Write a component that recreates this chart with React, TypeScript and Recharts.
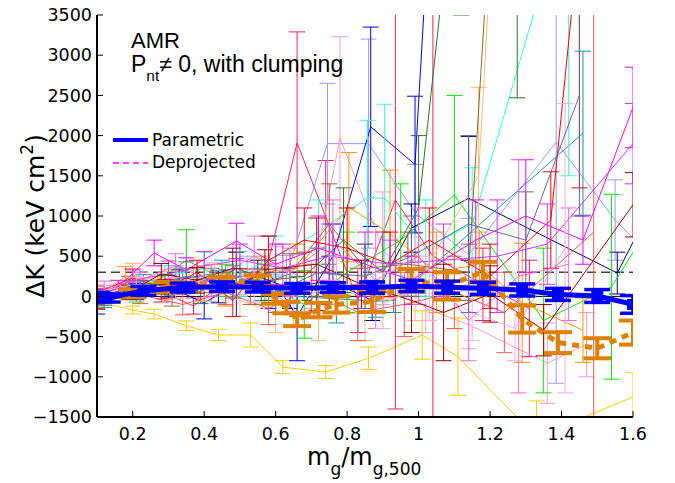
import { ComposedChart, Line, XAxis, YAxis, ErrorBar, ReferenceLine } from "recharts";

// [x, dK, error]
type Pt = [number, number, number];

const xTicks = [0.2, 0.4, 0.6, 0.8, 1, 1.2, 1.4, 1.6];
const yTicks = [-1500, -1000, -500, 0, 500, 1000, 1500, 2000, 2500, 3000, 3500];
const xDomain: [number, number] = [0.1, 1.6];
const yDomain: [number, number] = [-1500, 3500];
const zeroLevel = 0;
const dashedLevel = 300;

const parametric: Pt[] = [
  [0.1, 0, 50], [0.13, -20, 50], [0.23, 70, 55], [0.34, 110, 55], [0.45, 120, 60],
  [0.55, 115, 60], [0.66, 100, 60], [0.76, 110, 60], [0.87, 110, 70], [0.98, 130, 70],
  [1.08, 115, 75], [1.18, 100, 75], [1.29, 80, 75], [1.39, 25, 75], [1.5, 5, 80], [1.6, -100, 110],
];

const deprojected: Pt[] = [
  [0.1, -20, 40], [0.2, 40, 50], [0.3, 120, 60], [0.45, 180, 60], [0.55, 190, 70],
  [0.6, -30, 60], [0.63, -140, 70], [0.66, -290, 80], [0.72, -170, 90], [0.77, -100, 100],
  [0.87, -65, 130], [0.98, 200, 140], [1.08, 130, 170], [1.18, 305, 125], [1.29, -280, 170],
  [1.39, -575, 130], [1.5, -645, 125], [1.6, -450, 150],
];

const clYellow: Pt[] = [
  [0.1, -60, 60], [0.2, -170, 50], [0.26, -220, 60], [0.35, -365, 60], [0.44, -480, 70],
  [0.53, -480, 150], [0.62, -880, 80], [0.74, -940, 80], [0.86, -770, 140], [1.01, -480, 300],
  [1.11, -750, 480], [1.33, -1750, 450], [1.6, -1250, 300],
];
const clCrimson: Pt[] = [
  [0.11, 30, 70], [0.19, 140, 110], [0.28, 60, 130], [0.37, -120, 100], [0.46, 190, 140],
  [0.56, 80, 180], [0.66, 1910, 1380], [0.74, 990, 700], [0.83, -50, 400], [0.935, 1200, 2600],
  [1.04, 500, 5000], [1.18, 150, 450], [1.31, -150, 600],
];
const clLightBlue: Pt[] = [
  [0.12, 50, 90], [0.22, 180, 120], [0.32, 230, 150], [0.42, 100, 160], [0.52, 300, 200],
  [0.63, 260, 250], [0.745, 1900, 750], [0.86, 1900, 1300], [0.99, 1040, 600], [1.14, 520, 450],
  [1.385, 1920, 3000], [1.55, 950, 500], [1.65, 500, 400],
];
const clPink: Pt[] = [
  [0.1, -40, 80], [0.2, 120, 100], [0.3, 200, 140], [0.4, 260, 120], [0.5, 180, 160],
  [0.6, 420, 200], [0.7, 150, 300], [0.78, 1970, 1260], [0.9, 600, 700], [1.02, -150, 300],
  [1.14, -350, 300], [1.36, -830, 500], [1.47, -600, 400],
];
const clBlue: Pt[] = [
  [0.1, -100, 120], [0.21, 60, 100], [0.3, 120, 140], [0.4, -80, 200], [0.49, 150, 400],
  [0.58, 300, 450], [0.66, -250, 550], [0.76, 500, 400], [0.866, 2110, 1240], [0.99, 1640, 850],
  [1.06, 7000, 2000],
];
const clNavy: Pt[] = [
  [0.11, 0, 80], [0.22, 100, 100], [0.33, 180, 150], [0.44, 120, 200], [0.55, 250, 200],
  [0.64, 100, 250], [0.75, 200, 300], [0.87, -50, 250], [0.98, 850, 300], [1.14, 1220, 770],
  [1.556, 290, 260], [1.66, 1200, 300],
];
const clTeal: Pt[] = [
  [0.12, -60, 80], [0.23, 150, 120], [0.34, 220, 130], [0.45, 300, 150], [0.56, 150, 200],
  [0.66, 0, 250], [0.77, -30, 300], [0.88, -60, 200], [0.93, -50, 150], [1.46, 2030, 1020],
];
const clAqua: Pt[] = [
  [0.1, -80, 70], [0.19, 60, 90], [0.29, 250, 130], [0.4, 350, 200], [0.5, 280, 280],
  [0.6, 500, 250], [0.72, 800, 400], [0.857, 1230, 960], [0.905, 1220, 1170], [1.02, 600, 600],
  [1.15, 900, 700], [1.42, 5000, 3500],
];
const clGreen: Pt[] = [
  [0.11, -50, 60], [0.21, 20, 90], [0.35, 450, 380], [0.46, 200, 200], [0.57, 150, 250],
  [0.68, -100, 420], [0.8, 300, 500], [0.95, 700, 700], [1.1, 1260, 1240], [1.35, -300, 900],
  [1.54, 120, 1150], [1.65, 900, 600],
];
const clDarkGreen: Pt[] = [
  [0.1, -30, 70], [0.2, 80, 100], [0.29, 150, 120], [0.39, 60, 150], [0.49, 350, 200],
  [0.58, 200, 250], [0.68, 250, 300], [0.79, 700, 650], [0.9, 300, 500], [1.0, 1100, 900],
  [1.12, 6000, 2500], [1.276, 3600, 1130],
];
const clOrange: Pt[] = [
  [0.1, 0, 70], [0.18, 250, 120], [0.27, 150, 100], [0.37, 200, 150], [0.46, 80, 200],
  [0.56, 300, 200], [0.66, 350, 300], [0.805, 1110, 680], [0.92, 780, 790], [1.05, 300, 500],
  [1.17, 400, 400], [1.29, -80, 740], [1.46, -420, 400],
];
const clLightOrange: Pt[] = [
  [0.1, -30, 60], [0.2, 260, 150], [0.3, 180, 130], [0.4, 100, 160], [0.5, -50, 200],
  [0.6, -200, 250], [0.72, -250, 300], [0.85, -200, 350], [0.99, 100, 400], [1.168, 1500, 1100],
  [1.25, 8000, 3000],
];
const clBrown: Pt[] = [
  [0.1, 20, 60], [0.21, 100, 100], [0.31, 0, 120], [0.42, 200, 150], [0.53, 100, 200],
  [0.64, 280, 250], [0.75, 900, 500], [0.85, 350, 300], [0.97, 400, 400], [1.14, 300, 350],
  [1.26, 9000, 3000],
];
const clRed: Pt[] = [
  [0.1, 50, 80], [0.2, 230, 110], [0.29, 90, 120], [0.38, 300, 150], [0.48, -50, 200],
  [0.58, 450, 300], [0.68, 700, 400], [0.8, 600, 500], [0.92, 400, 400], [1.03, 700, 400],
  [1.2, 250, 400], [1.37, 950, 600], [1.45, 4500, 3150],
];
const clLightRed: Pt[] = [
  [0.1, -70, 80], [0.22, 20, 110], [0.34, -100, 130], [0.46, 50, 150], [0.58, -150, 200],
  [0.7, 100, 300], [0.83, -200, 350], [0.96, -100, 400], [1.1, 50, 450], [1.24, -200, 500],
  [1.49, 800, 6000],
];
const clMagenta: Pt[] = [
  [0.1, -20, 60], [0.16, 120, 80], [0.26, 540, 160], [0.35, 330, 150], [0.49, 690, 220],
  [0.6, 400, 250], [0.72, 600, 400], [0.85, 400, 400], [0.98, 200, 300], [1.16, 700, 500],
  [1.3, 1000, 700], [1.46, 700, 300], [1.6, 2350, 500],
];
const clViolet: Pt[] = [
  [0.1, 30, 70], [0.2, 200, 130], [0.3, 280, 160], [0.4, 380, 180], [0.5, 450, 200],
  [0.62, 350, 300], [0.75, 500, 400], [0.92, 400, 300], [1.07, 450, 450], [1.22, 500, 700],
  [1.36, 650, 500], [1.6, 1900, 500],
];
const clHotPink: Pt[] = [
  [0.12, 100, 90], [0.22, 200, 100], [0.32, 380, 150], [0.42, 200, 200], [0.54, 500, 250],
  [0.64, 300, 300], [0.76, 700, 500], [0.88, 200, 600], [1.0, 500, 600], [1.14, -300, 500],
  [1.28, 250, 1450], [1.42, 400, 700],
];
const clDarkRed: Pt[] = [
  [0.1, -100, 60], [0.19, 50, 90], [0.28, 280, 130], [0.38, 200, 160], [0.48, 350, 250],
  [0.57, 330, 250], [0.715, 400, 575], [0.84, 150, 300], [0.98, -50, 400], [1.07, -200, 600],
  [1.2, 30, 350], [1.35, -420, 320], [1.6, 1140, 400],
];
const clPalePink: Pt[] = [
  [0.1, 60, 80], [0.21, 150, 90], [0.32, 100, 130], [0.43, 250, 170], [0.54, 130, 200],
  [0.65, -100, 250], [0.77, 200, 300], [0.9, -50, 350], [1.03, 100, 400], [1.15, -200, 350],
  [1.27, -400, 400], [1.41, 600, 1800],
];
const clSlate: Pt[] = [
  [0.12, -30, 80], [0.23, 100, 100], [0.35, 250, 180], [0.48, 180, 200], [0.6, 50, 250],
  [0.72, 300, 300], [0.85, 250, 400], [0.98, 500, 500], [1.14, 900, 1100], [1.3, 700, 600],
  [1.45, 2500, 1500],
];

const clusters: { color: string; pts: Pt[] }[] = [
  { color: "#ffcc00", pts: clYellow },
  { color: "#ff1f5a", pts: clCrimson },
  { color: "#9999ff", pts: clLightBlue },
  { color: "#ff99cc", pts: clPink },
  { color: "#0000ff", pts: clBlue },
  { color: "#000080", pts: clNavy },
  { color: "#119a9a", pts: clTeal },
  { color: "#33ffcc", pts: clAqua },
  { color: "#00ee00", pts: clGreen },
  { color: "#2f6f2f", pts: clDarkGreen },
  { color: "#ff9900", pts: clOrange },
  { color: "#ffbb77", pts: clLightOrange },
  { color: "#996633", pts: clBrown },
  { color: "#ff0000", pts: clRed },
  { color: "#ff5555", pts: clLightRed },
  { color: "#ff00ff", pts: clMagenta },
  { color: "#cc33ff", pts: clViolet },
  { color: "#ff66cc", pts: clHotPink },
  { color: "#990000", pts: clDarkRed },
  { color: "#ffaadd", pts: clPalePink },
  { color: "#6666aa", pts: clSlate },
];

const toRows = (pts: Pt[]) => pts.map(([x, y, e]) => ({ x, y, e }));

const tickFont = { fill: "#000", fontSize: 17.5, fontFamily: "DejaVu Sans" };
const fmtY = (v: number) => (v < 0 ? "\u2212" + Math.abs(v) : String(v));
const frame = { stroke: "#000", strokeWidth: 2 };

const SquareDot = (p: any) => (
  <rect key={p.index} x={p.cx - 6} y={p.cy - 5.5} width={12} height={11} fill="#0000ff" />
);

// plot box: left 97, top 15, right 633, bottom 417
const W = 675;
const H = 483;

export default function App() {
  return (
    <div style={{ position: "absolute", left: 0, top: 0, width: W, height: H, background: "#fff" }}>
      {/* data layer, clipped to the plot box */}
      <div style={{ position: "absolute", left: 0, top: 0, clipPath: "inset(15px 42px 66px 97px)" }}>
        <ComposedChart width={W} height={H} margin={{ top: 15, right: 42, bottom: 66, left: 97 }}>
          <XAxis dataKey="x" type="number" domain={xDomain} allowDataOverflow hide />
          <YAxis type="number" domain={yDomain} allowDataOverflow hide />
          <ReferenceLine y={zeroLevel} stroke="#000" strokeWidth={1} />
          <ReferenceLine y={dashedLevel} stroke="#444" strokeWidth={1.5} strokeDasharray="9 5" />
          {clusters.map((c, i) => (
            <Line
              key={i}
              data={toRows(c.pts)}
              dataKey="y"
              type="linear"
              stroke={c.color}
              strokeWidth={1}
              dot={false}
              isAnimationActive={false}
            >
              <ErrorBar dataKey="e" direction="y" width={8} stroke={c.color} strokeWidth={1} isAnimationActive={false} />
            </Line>
          ))}
          <Line
            data={toRows(deprojected)}
            dataKey="y"
            type="linear"
            stroke="#e08000"
            strokeWidth={5}
            strokeDasharray="7 6"
            dot={false}
            isAnimationActive={false}
          >
            <ErrorBar dataKey="e" direction="y" width={14} stroke="#e08000" strokeWidth={4} isAnimationActive={false} />
          </Line>
          <Line
            data={toRows(parametric)}
            dataKey="y"
            type="linear"
            stroke="#0000ff"
            strokeWidth={5}
            dot={SquareDot}
            isAnimationActive={false}
          >
            <ErrorBar dataKey="e" direction="y" width={13} stroke="#0000ff" strokeWidth={3.5} isAnimationActive={false} />
          </Line>
        </ComposedChart>
      </div>
      {/* axes layer */}
      <div style={{ position: "absolute", left: 0, top: 0 }}>
        <ComposedChart width={W} height={H} margin={{ top: 15, right: 42, bottom: 0, left: 0 }}>
          <XAxis
            dataKey="x"
            type="number"
            domain={xDomain}
            ticks={xTicks}
            allowDataOverflow
            height={66}
            tickSize={-6}
            tickMargin={17}
            tick={tickFont}
            axisLine={frame}
            tickLine={{ stroke: "#000" }}
          />
          <XAxis
            xAxisId="top"
            orientation="top"
            type="number"
            domain={xDomain}
            ticks={xTicks}
            allowDataOverflow
            height={0}
            tickSize={-6}
            tickFormatter={() => ""}
            axisLine={frame}
            tickLine={{ stroke: "#000" }}
          />
          <YAxis
            type="number"
            domain={yDomain}
            ticks={yTicks}
            allowDataOverflow
            width={97}
            tickSize={-6}
            tickMargin={11}
            tick={tickFont}
            tickFormatter={fmtY}
            axisLine={frame}
            tickLine={{ stroke: "#000" }}
          />
          <YAxis
            yAxisId="r"
            orientation="right"
            type="number"
            domain={yDomain}
            ticks={yTicks}
            allowDataOverflow
            width={0}
            tickSize={-6}
            tickFormatter={() => ""}
            axisLine={frame}
            tickLine={{ stroke: "#000" }}
          />
        </ComposedChart>
      </div>
      <svg width={W} height={H} style={{ position: "absolute", left: 0, top: 0, pointerEvents: "none" }}>
        <text x={131} y={48} fontSize={22} fontFamily="Liberation Sans">AMR</text>
        <text x={131} y={72} fontSize={23} fontFamily="Liberation Sans">
          P<tspan fontSize={15.5} dy={9}>nt</tspan>
          <tspan dy={-9}>≠ 0, with clumping</tspan>
        </text>
        <line x1={113} y1={140} x2={148} y2={140} stroke="#0000ff" strokeWidth={4} />
        <text x={152} y={146} fontSize={17} fontFamily="DejaVu Sans">Parametric</text>
        <line x1={113} y1={163} x2={148} y2={163} stroke="#ff00ff" strokeWidth={1.5} strokeDasharray="6 4" />
        <text x={152} y={168} fontSize={17} fontFamily="DejaVu Sans">Deprojected</text>
        <text transform="translate(44,216) rotate(-90)" textAnchor="middle" fontSize={25} fontFamily="DejaVu Sans">
          ΔK (keV cm<tspan fontSize={17} dy={-11}>2</tspan>
          <tspan dy={11}>)</tspan>
        </text>
        <text x={307} y={465} fontSize={24} fontFamily="DejaVu Sans">
          m<tspan fontSize={17} dy={10}>g</tspan>
          <tspan dy={-10}>/m</tspan>
          <tspan fontSize={17} dy={10}>g,500</tspan>
        </text>
      </svg>
    </div>
  );
}
